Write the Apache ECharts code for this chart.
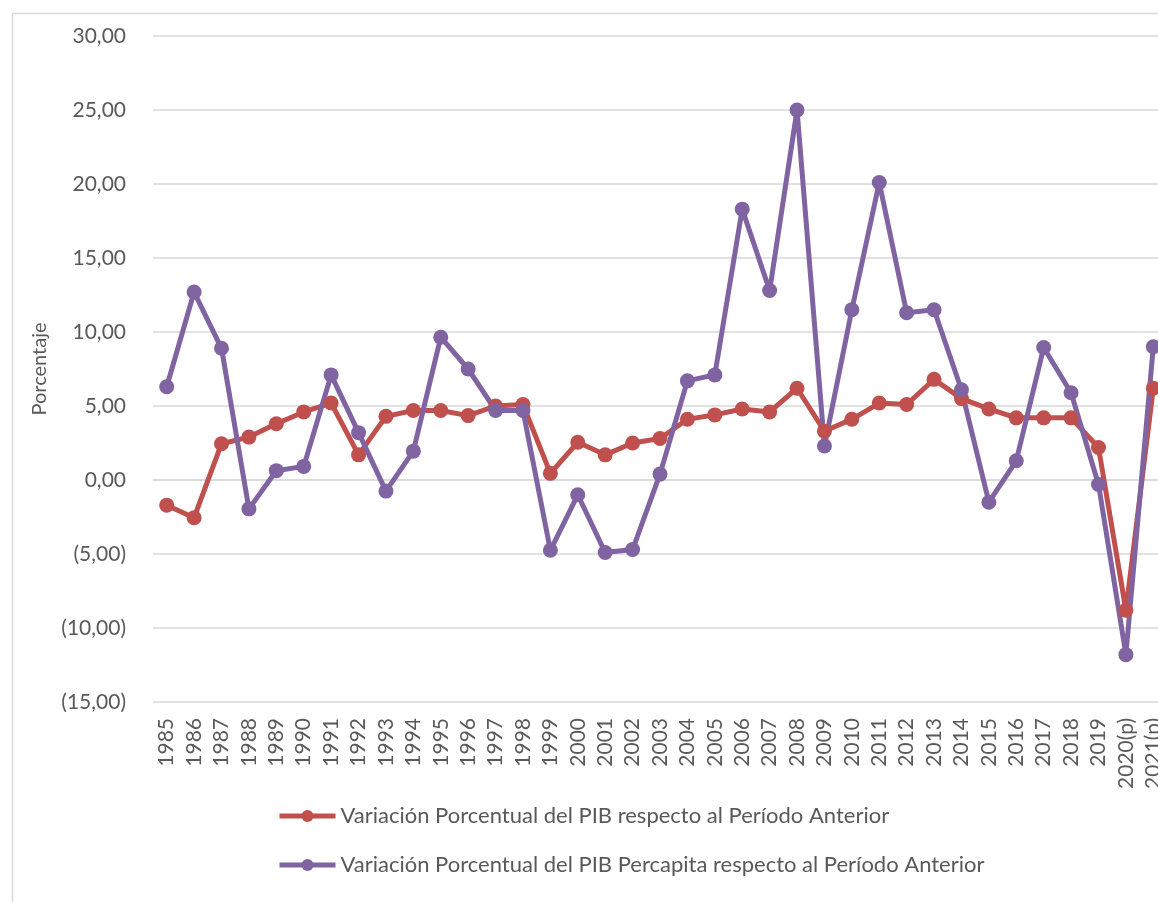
<!DOCTYPE html>
<html>
<head>
<meta charset="utf-8">
<script src="https://cdn.jsdelivr.net/npm/echarts@6/dist/echarts.min.js"></script>
<style>
  html, body { margin: 0; padding: 0; background: #fff; overflow: hidden; }
  #chart { width: 1172px; height: 902px; }
</style>
</head>
<body>
<div id="chart"></div>
<script>
  // años (2020 y 2021 preliminares)
  var years = ['1985', '1986', '1987', '1988', '1989', '1990', '1991', '1992', '1993', '1994',
    '1995', '1996', '1997', '1998', '1999', '2000', '2001', '2002', '2003', '2004',
    '2005', '2006', '2007', '2008', '2009', '2010', '2011', '2012', '2013', '2014',
    '2015', '2016', '2017', '2018', '2019', '2020(p)', '2021(p)'];

  // variación porcentual del PIB
  var pib = [-1.7, -2.55, 2.45, 2.9, 3.8, 4.6, 5.2, 1.7, 4.3, 4.7,
    4.7, 4.35, 5.0, 5.1, 0.45, 2.55, 1.7, 2.5, 2.8, 4.1,
    4.4, 4.8, 4.6, 6.2, 3.3, 4.1, 5.2, 5.1, 6.8, 5.5,
    4.8, 4.2, 4.2, 4.2, 2.2, -8.8, 6.2];

  // variación porcentual del PIB per cápita
  var pibPc = [6.3, 12.7, 8.9, -1.95, 0.63, 0.92, 7.1, 3.2, -0.75, 1.95,
    9.65, 7.5, 4.7, 4.7, -4.75, -1.0, -4.9, -4.7, 0.4, 6.7,
    7.1, 18.3, 12.8, 25.0, 2.3, 11.5, 20.1, 11.3, 11.5, 6.1,
    -1.5, 1.3, 8.95, 5.9, -0.3, -11.8, 9.0];

  var seriesNames = ['Variación Porcentual del PIB respecto al Período Anterior',
    'Variación Porcentual del PIB Percapita respecto al Período Anterior'];
  var colors = ['#C0504D', '#8064A2'];

  function fmt(v) {
    var s = Math.abs(v).toFixed(2).replace('.', ',');
    return v < 0 ? '(' + s + ')' : s;
  }

  var font = 'Lato, "Open Sans", sans-serif';
  // el gráfico original está recortado a la derecha: el div es más ancho que la ventana
  var myChart = echarts.init(document.getElementById('chart'));
  var option = {
    animation: false,
    color: colors,
    textStyle: { fontFamily: font },
    graphic: [{
      type: 'rect',
      shape: { x: 12.5, y: 13.5, width: 1300, height: 1000 },
      style: { fill: 'none', stroke: '#d9d9d9', lineWidth: 1.5 },
      silent: true
    }],
    legend: {
      orient: 'vertical',
      left: 272,
      top: 800,
      itemGap: 27,
      itemWidth: 56,
      itemHeight: 15,
      lineStyle: { width: 5 },
      textStyle: { fontSize: 22, color: '#595959', fontFamily: font },
      data: seriesNames
    },
    grid: {
      left: 153,
      top: 36,
      width: 1014,
      height: 666
    },
    xAxis: {
      type: 'category',
      data: years,
      boundaryGap: true,
      axisTick: { show: false },
      axisLine: { lineStyle: { color: '#d9d9d9', width: 1.5 } },
      axisLabel: {
        rotate: 90,
        interval: 0,
        margin: 16,
        fontSize: 21,
        color: '#595959',
        fontFamily: font
      }
    },
    yAxis: {
      type: 'value',
      min: -15,
      max: 30,
      interval: 5,
      name: 'Porcentaje',
      nameLocation: 'middle',
      nameGap: 103,
      nameTextStyle: { fontSize: 20, color: '#595959', fontFamily: font },
      axisLine: { show: false },
      axisTick: { show: false },
      splitLine: { lineStyle: { color: '#d9d9d9', width: 1.5 } },
      axisLabel: {
        margin: 27,
        fontSize: 21,
        color: '#595959',
        fontFamily: font,
        formatter: fmt
      }
    },
    series: [
      {
        name: seriesNames[0],
        type: 'line',
        data: pib,
        symbol: 'circle',
        symbolSize: 15,
        lineStyle: { width: 5 },
        itemStyle: { color: colors[0] }
      },
      {
        name: seriesNames[1],
        type: 'line',
        data: pibPc,
        symbol: 'circle',
        symbolSize: 15,
        lineStyle: { width: 5 },
        itemStyle: { color: colors[1] }
      }
    ]
  };
  myChart.setOption(option);
</script>
</body>
</html>
